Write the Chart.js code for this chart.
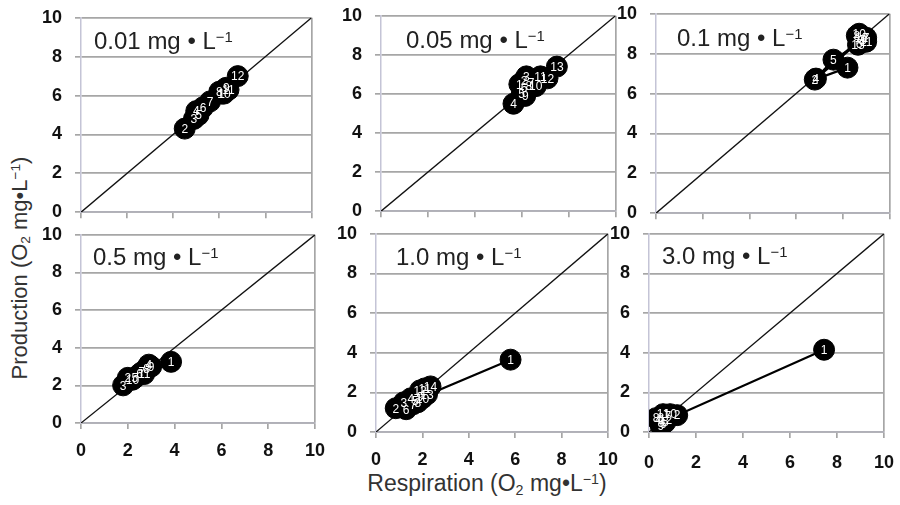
<!DOCTYPE html>
<html>
<head>
<meta charset="utf-8">
<script src="https://cdn.jsdelivr.net/npm/chart.js@4.4.0/dist/chart.umd.min.js"></script>
<style>
  body { margin: 0; width: 900px; height: 505px; position: relative; overflow: hidden; background: #fff;
         font-family: 'Liberation Sans', Arial, sans-serif; color: #222; }
  canvas { position: absolute; }
  .ttl { position: absolute; font-size: 24px; line-height: 24px; white-space: nowrap; }
  .ax { position: absolute; font-size: 22px; line-height: 24px; white-space: nowrap; color: #333; }
  sup { font-size: 0.62em; vertical-align: 0.5em; line-height: 0; }
  sub { font-size: 0.62em; vertical-align: -0.25em; line-height: 0; }
</style>
</head>
<body>
<div class="ax" id="ylab" style="left:20px; top:268px; transform: translate(-50%, -50%) rotate(-90deg);">Production (O<sub>2</sub> mg•L<sup>−1</sup>)</div>
<div class="ax" id="xlab" style="left:487px; top:483px; font-size:23px; transform: translate(-50%, -50%);">Respiration (O<sub>2</sub> mg•L<sup>−1</sup>)</div>
<script>
// panel labels (concentration, mg/L) and shared tick values
var concLabels = ['0.01', '0.05', '0.1', '0.5', '1.0', '3.0'];
var axisTicks = [0, 2, 4, 6, 8, 10];

// respiration (x) and production (y) for each numbered day
var resp001 = [6.1, 4.5, 4.9, 5.0, 5.1, 5.3, 5.6, 6.0, 6.3, 6.2, 6.4, 6.8];
var prod001 = [6.1, 4.3, 4.8, 5.2, 5.0, 5.4, 5.7, 6.2, 6.4, 6.1, 6.3, 7.0];

var resp005 = [5.9, 6.1, 6.2, 5.65, 6.0, 6.1, 6.4, 6.3, 6.15, 6.6, 6.8, 7.1, 7.5];
var prod005 = [6.5, 6.7, 6.9, 5.5, 6.0, 6.3, 6.6, 6.4, 5.9, 6.4, 6.9, 6.8, 7.4];

var resp01 = [8.2, 6.8, 8.8, 6.85, 7.6, 8.7, 9.0, 8.6, 8.9, 8.7, 9.0, 8.8, 8.65];
var prod01 = [7.3, 6.7, 8.7, 6.75, 7.7, 8.5, 8.8, 8.9, 8.7, 9.0, 8.6, 8.8, 8.45];

var resp05 = [3.85, 2.0, 1.8, 2.9, 2.3, 2.5, 2.6, 2.8, 3.0, 2.2, 2.7];
var prod05 = [3.25, 2.4, 2.0, 3.1, 2.4, 2.6, 2.7, 2.9, 3.0, 2.3, 2.6];

var resp10 = [5.8, 0.85, 1.2, 1.5, 1.7, 1.3, 1.6, 1.8, 1.9, 2.0, 2.1, 1.9, 2.2, 2.35];
var prod10 = [3.65, 1.2, 1.5, 1.7, 1.6, 1.15, 1.4, 1.5, 1.8, 1.7, 2.2, 2.1, 1.9, 2.3];

var resp30 = [7.45, 1.2, 0.5, 0.4, 0.7, 0.6, 0.8, 0.3, 0.5, 0.9, 0.6, 0.7];
var prod30 = [4.15, 0.85, 0.7, 0.6, 0.5, 0.4, 0.8, 0.7, 0.3, 0.9, 0.9, 0.6];

var respAll = [resp001, resp005, resp01, resp05, resp10, resp30];
var prodAll = [prod001, prod005, prod01, prod05, prod10, prod30];

// plot-area boxes on the page and title spots
var boxes = [
  { L: 81, R: 311, T: 18, B: 212, xl: false, tx: 94, ty: 41 },
  { L: 381, R: 615, T: 16, B: 211, xl: false, tx: 406, ty: 40 },
  { L: 656, R: 889, T: 14, B: 213, xl: false, tx: 677, ty: 38 },
  { L: 81, R: 315, T: 235, B: 423, xl: true, xpad: 11, tx: 93, ty: 257 },
  { L: 376, R: 608, T: 234, B: 432, xl: true, xpad: 11, tx: 396, ty: 257 },
  { L: 649, R: 884, T: 234, B: 432, xl: true, xpad: 14, tx: 662, ty: 256 }
];

var gridCol = '#a6a6a6';
var tickFont = { family: 'Liberation Sans', size: 18, weight: 'bold' };
var yW = 55;

var dayNumbers = {
  id: 'dayNumbers',
  afterDatasetsDraw: function (chart) {
    var meta = chart.getDatasetMeta(1);
    var ctx = chart.ctx;
    ctx.save();
    ctx.fillStyle = '#fff';
    ctx.font = '12px Liberation Sans';
    ctx.textAlign = 'center';
    ctx.textBaseline = 'middle';
    meta.data.forEach(function (pt, k) {
      ctx.fillText(String(k + 1), pt.x, pt.y + 1);
    });
    ctx.restore();
  }
};

function makeConfig(b, i) {
  var xH = b.xl ? 40 : 8;
  var pts = respAll[i].map(function (x, k) { return { x: x, y: prodAll[i][k] }; });
  return {
    type: 'scatter',
    data: {
      datasets: [
        { type: 'line', data: [{ x: 0, y: 0 }, { x: 10, y: 10 }], borderColor: '#111', borderWidth: 1.3,
          pointRadius: 0, order: 2 },
        { type: 'line', data: pts, borderColor: '#000', borderWidth: 2.2, pointRadius: 10.5,
          pointBackgroundColor: '#000', pointBorderColor: '#000', pointBorderWidth: 1, order: 1 }
      ]
    },
    options: {
      responsive: false,
      animation: false,
      layout: { padding: 0 },
      plugins: { legend: { display: false }, tooltip: { enabled: false } },
      scales: {
        x: {
          type: 'linear', min: 0, max: 10,
          afterBuildTicks: function (s) { s.ticks = axisTicks.map(function (v) { return { value: v }; }); },
          afterFit: function (s) { s.height = xH; },
          grid: {
            color: function (c) { return c.tick && c.tick.value === 10 ? gridCol : 'rgba(0,0,0,0)'; },
            tickColor: gridCol, tickLength: 6, lineWidth: 1.7
          },
          border: { color: '#b0b0b8', width: 1.7 },
          ticks: { display: b.xl, font: tickFont, color: '#111', padding: b.xpad || 0, maxRotation: 0 }
        },
        y: {
          type: 'linear', min: 0, max: 10,
          afterBuildTicks: function (s) { s.ticks = axisTicks.map(function (v) { return { value: v }; }); },
          afterFit: function (s) { s.width = yW; },
          grid: { color: gridCol, tickColor: gridCol, tickLength: 6, lineWidth: 1.7 },
          border: { color: '#c4c4d6', width: 1.5 },
          ticks: { font: tickFont, color: '#111', padding: 13 }
        }
      }
    },
    plugins: [dayNumbers]
  };
}

boxes.forEach(function (b, i) {
  var cv = document.createElement('canvas');
  cv.width = 300; cv.height = 240;
  document.body.appendChild(cv);

  // first pass: find the margins Chart.js leaves round the plot area
  var probe = new Chart(cv.getContext('2d'), makeConfig(b, i));
  var a = probe.chartArea;
  var mL = a.left, mT = a.top, mR = cv.width - a.right, mB = cv.height - a.bottom;
  probe.destroy();

  // second pass: size and place the canvas so the plot area lands on the box
  cv.width = Math.round(mL + (b.R - b.L) + mR);
  cv.height = Math.round(mT + (b.B - b.T) + mB);
  cv.style.left = Math.round(b.L - mL) + 'px';
  cv.style.top = Math.round(b.T - mT) + 'px';
  new Chart(cv.getContext('2d'), makeConfig(b, i));

  var t = document.createElement('div');
  t.className = 'ttl';
  t.style.left = b.tx + 'px';
  t.style.top = (b.ty - 12) + 'px';
  t.innerHTML = concLabels[i] + ' mg • L<sup>−1</sup>';
  document.body.appendChild(t);
});
</script>
</body>
</html>
